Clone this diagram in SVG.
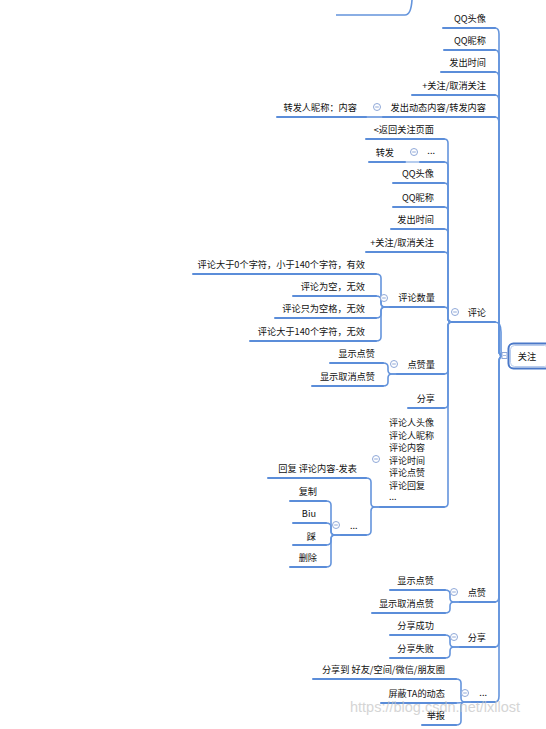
<svg xmlns="http://www.w3.org/2000/svg" width="546" height="729" viewBox="0 0 546 729">
<style>
.ul{stroke:#5b8dd9;stroke-width:2;fill:none;stroke-linecap:round}
.cn{stroke:#6494dc;stroke-width:1.6;fill:none}
.t{font-family:"Noto Sans CJK SC","Noto Sans",sans-serif;font-size:9.2px;fill:#111}
.e{text-anchor:end}
.ml{font-size:9px}
.wm{font-family:"Liberation Sans",Arial,sans-serif;font-size:14.5px;fill:#c4c4c4;opacity:0.7}
</style>
<defs>
<g id="cb"><circle r="3.5" fill="#fff" stroke="#8fa8d8" stroke-width="1"/><line x1="-1.8" y1="0" x2="1.8" y2="0" stroke="#8fa8d8" stroke-width="1"/></g>
</defs>
<rect width="546" height="729" fill="#fff"/>

<g id="connectors">
<path class="cn" d="M336 15 H405 Q411 15 412 0"/>
<path class="cn" d="M495 28 Q499 28 499 34 V350 Q499 356 503 356"/>
<path class="cn" d="M495 50 Q499 50 499 56 V350 Q499 356 503 356"/>
<path class="cn" d="M495 72 Q499 72 499 78 V350 Q499 356 503 356"/>
<path class="cn" d="M495 95 Q499 95 499 101 V350 Q499 356 503 356"/>
<path class="cn" d="M495 117 Q499 117 499 123 V350 Q499 356 503 356"/>
<path class="cn" d="M495 322 Q501 322 501 332 V350 Q501 356 503 356"/>
<path class="cn" d="M495 602 Q499 602 499 596 V362 Q499 356 503 356"/>
<path class="cn" d="M495 647 Q499 647 499 641 V362 Q499 356 503 356"/>
<path class="cn" d="M495 702 Q499 702 499 696 V362 Q499 356 503 356"/>
<path class="cn" d="M366 117 H383"/>
<path class="cn" d="M444 139 Q448 139 448 143 V318 Q448 322 452 322"/>
<path class="cn" d="M444 162 Q448 162 448 166 V318 Q448 322 452 322"/>
<path class="cn" d="M444 183 Q448 183 448 187 V318 Q448 322 452 322"/>
<path class="cn" d="M444 207 Q448 207 448 211 V318 Q448 322 452 322"/>
<path class="cn" d="M444 229 Q448 229 448 233 V318 Q448 322 452 322"/>
<path class="cn" d="M444 252 Q448 252 448 256 V318 Q448 322 452 322"/>
<path class="cn" d="M444 307 Q448 307 448 311 V318 Q448 322 452 322"/>
<path class="cn" d="M444 374 Q448 374 448 370 V326 Q448 322 452 322"/>
<path class="cn" d="M444 408 Q448 408 448 404 V326 Q448 322 452 322"/>
<path class="cn" d="M444 507 Q448 507 448 503 V326 Q448 322 452 322"/>
<path class="cn" d="M405 162 H420" stroke-opacity="0.6"/>
<path class="cn" d="M376 274 Q381 274 381 278 V303 Q381 307 385 307 H390"/>
<path class="cn" d="M376 296 Q381 296 381 300 V303 Q381 307 385 307 H390"/>
<path class="cn" d="M376 318 Q381 318 381 314 V311 Q381 307 385 307 H390"/>
<path class="cn" d="M376 341 Q381 341 381 337 V311 Q381 307 385 307 H390"/>
<path class="cn" d="M383 363 Q388 363 388 367 V370 Q388 374 392 374 H397"/>
<path class="cn" d="M383 386 Q388 386 388 382 V378 Q388 374 392 374 H397"/>
<path class="cn" d="M366 478 Q371 478 371 482 V503 Q371 507 375 507 H380"/>
<path class="cn" d="M366 535 Q371 535 371 531 V511 Q371 507 375 507 H380"/>
<path class="cn" d="M326 501 Q331 501 331 505 V531 Q331 535 335 535 H341"/>
<path class="cn" d="M326 523 Q331 523 331 527 V531 Q331 535 335 535 H341"/>
<path class="cn" d="M326 545 Q331 545 331 541 V539 Q331 535 335 535 H341"/>
<path class="cn" d="M326 567 Q331 567 331 563 V539 Q331 535 335 535 H341"/>
<path class="cn" d="M445 590 Q450 590 450 594 V598 Q450 602 454 602 H460"/>
<path class="cn" d="M445 613 Q450 613 450 609 V606 Q450 602 454 602 H460"/>
<path class="cn" d="M445 635 Q450 635 450 639 V643 Q450 647 454 647 H460"/>
<path class="cn" d="M445 658 Q450 658 450 654 V651 Q450 647 454 647 H460"/>
<path class="cn" d="M456 679 Q461 679 461 683 V698 Q461 702 465 702 H472"/>
<path class="cn" d="M456 703 Q461 703 465 702 H472"/>
<path class="cn" d="M456 725 Q461 725 461 721 V706 Q461 702 465 702 H472"/>
</g>

<g id="n-root">
<rect x="508.5" y="343.5" width="42" height="25" rx="5" fill="#fff" stroke="#4a78c8" stroke-width="2"/>
<rect x="510.5" y="345.5" width="38" height="21" rx="4" fill="none" stroke="#b9cdee" stroke-width="1"/>
<text class="t" x="527" y="359.5" text-anchor="middle" font-size="10">关注</text>
<rect x="502" y="352.5" width="5" height="6" fill="#fff" stroke="#8fa8d8" stroke-width="1"/>
<line x1="503" y1="355.5" x2="506" y2="355.5" stroke="#8fa8d8" stroke-width="0.8"/>
</g>

<g id="n-top-qqtx"><line class="ul" x1="443" y1="28" x2="495" y2="28"/><text class="t e" x="486" y="22">QQ头像</text></g>
<g id="n-top-qqnc"><line class="ul" x1="444" y1="50" x2="495" y2="50"/><text class="t e" x="486" y="44">QQ昵称</text></g>
<g id="n-top-time"><line class="ul" x1="441" y1="72" x2="495" y2="72"/><text class="t e" x="486" y="66">发出时间</text></g>
<g id="n-top-follow"><line class="ul" x1="412" y1="95" x2="495" y2="95"/><text class="t e" x="486" y="89">+关注/取消关注</text></g>
<g id="n-top-content"><line class="ul" x1="383" y1="117" x2="495" y2="117"/><text class="t e" x="486" y="111">发出动态内容/转发内容</text><use href="#cb" x="377" y="107"/></g>
<g id="n-fwd-name"><line class="ul" x1="277" y1="117" x2="366" y2="117"/><text class="t e" x="357" y="111">转发人昵称：内容</text></g>

<g id="n-comment"><line class="ul" x1="452" y1="322" x2="495" y2="322"/><text class="t e" x="486" y="316">评论</text><use href="#cb" x="455" y="312"/></g>
<g id="n-c-back"><line class="ul" x1="366" y1="139" x2="444" y2="139"/><text class="t e" x="434" y="133">&lt;返回关注页面</text></g>
<g id="n-c-more"><line class="ul" x1="420" y1="162" x2="444" y2="162"/><text class="t e" x="435" y="154" fill="#6a2a6a" font-size="8">...</text><use href="#cb" x="414" y="152"/></g>
<g id="n-c-fwd"><line class="ul" x1="369" y1="162" x2="405" y2="162"/><text class="t e" x="394" y="156">转发</text></g>
<g id="n-c-qqtx"><line class="ul" x1="393" y1="183" x2="444" y2="183"/><text class="t e" x="434" y="177">QQ头像</text></g>
<g id="n-c-qqnc"><line class="ul" x1="393" y1="207" x2="444" y2="207"/><text class="t e" x="434" y="201">QQ昵称</text></g>
<g id="n-c-time"><line class="ul" x1="391" y1="229" x2="444" y2="229"/><text class="t e" x="434" y="223">发出时间</text></g>
<g id="n-c-follow"><line class="ul" x1="366" y1="252" x2="444" y2="252"/><text class="t e" x="434" y="246">+关注/取消关注</text></g>

<g id="n-c-count"><line class="ul" x1="390" y1="307" x2="444" y2="307"/><text class="t e" x="435" y="301">评论数量</text><use href="#cb" x="384" y="298"/></g>
<g id="n-cc-1"><line class="ul" x1="193" y1="274" x2="376" y2="274"/><text class="t e" x="365" y="268">评论大于0个字符，小于140个字符，有效</text></g>
<g id="n-cc-2"><line class="ul" x1="293" y1="296" x2="376" y2="296"/><text class="t e" x="365" y="290">评论为空，无效</text></g>
<g id="n-cc-3"><line class="ul" x1="275" y1="318" x2="376" y2="318"/><text class="t e" x="365" y="312">评论只为空格，无效</text></g>
<g id="n-cc-4"><line class="ul" x1="250" y1="341" x2="376" y2="341"/><text class="t e" x="365" y="335">评论大于140个字符，无效</text></g>

<g id="n-c-likes"><line class="ul" x1="397" y1="374" x2="444" y2="374"/><text class="t e" x="435" y="368">点赞量</text><use href="#cb" x="394" y="364"/></g>
<g id="n-cl-1"><line class="ul" x1="330" y1="363" x2="383" y2="363"/><text class="t e" x="375" y="357">显示点赞</text></g>
<g id="n-cl-2"><line class="ul" x1="312" y1="386" x2="383" y2="386"/><text class="t e" x="375" y="380">显示取消点赞</text></g>

<g id="n-c-share"><line class="ul" x1="408" y1="408" x2="444" y2="408"/><text class="t e" x="435" y="402">分享</text></g>

<g id="n-c-detail"><line class="ul" x1="380" y1="507" x2="444" y2="507"/>
<text class="t ml" x="389" y="426">评论人头像</text>
<text class="t ml" x="389" y="438.5">评论人昵称</text>
<text class="t ml" x="389" y="451">评论内容</text>
<text class="t ml" x="389" y="463.5">评论时间</text>
<text class="t ml" x="389" y="476">评论点赞</text>
<text class="t ml" x="389" y="488.5">评论回复</text>
<text class="t ml" x="389" y="500">...</text>
<use href="#cb" x="376" y="459"/></g>
<g id="n-cd-reply"><line class="ul" x1="268" y1="478" x2="366" y2="478"/><text class="t e" x="357" y="472">回复 评论内容-发表</text></g>
<g id="n-cd-more"><line class="ul" x1="341" y1="535" x2="366" y2="535"/><text class="t" x="350" y="529">...</text><use href="#cb" x="336" y="525"/></g>
<g id="n-cdm-copy"><line class="ul" x1="290" y1="501" x2="326" y2="501"/><text class="t e" x="317" y="495">复制</text></g>
<g id="n-cdm-biu"><line class="ul" x1="293" y1="523" x2="326" y2="523"/><text class="t e" x="316" y="517">Biu</text></g>
<g id="n-cdm-cai"><line class="ul" x1="293" y1="545" x2="326" y2="545"/><text class="t e" x="316" y="540">踩</text></g>
<g id="n-cdm-del"><line class="ul" x1="290" y1="567" x2="326" y2="567"/><text class="t e" x="317" y="561">删除</text></g>

<g id="n-like"><line class="ul" x1="460" y1="602" x2="495" y2="602"/><text class="t e" x="486" y="596">点赞</text><use href="#cb" x="454" y="592"/></g>
<g id="n-like-1"><line class="ul" x1="390" y1="590" x2="445" y2="590"/><text class="t e" x="434" y="584">显示点赞</text></g>
<g id="n-like-2"><line class="ul" x1="372" y1="613" x2="445" y2="613"/><text class="t e" x="434" y="607">显示取消点赞</text></g>

<g id="n-share"><line class="ul" x1="460" y1="647" x2="495" y2="647"/><text class="t e" x="486" y="641">分享</text><use href="#cb" x="454" y="637"/></g>
<g id="n-share-1"><line class="ul" x1="390" y1="635" x2="445" y2="635"/><text class="t e" x="434" y="629">分享成功</text></g>
<g id="n-share-2"><line class="ul" x1="390" y1="658" x2="445" y2="658"/><text class="t e" x="434" y="652">分享失败</text></g>

<g id="n-more"><line class="ul" x1="472" y1="702" x2="495" y2="702"/><text class="t e" x="487" y="696">...</text><use href="#cb" x="465" y="693"/></g>
<g id="n-more-1"><line class="ul" x1="313" y1="679" x2="456" y2="679"/><text class="t e" x="445" y="673">分享到 好友/空间/微信/朋友圈</text></g>
<g id="n-more-2"><line class="ul" x1="381" y1="703" x2="456" y2="703"/><text class="t e" x="445" y="697">屏蔽TA的动态</text></g>
<g id="n-more-3"><line class="ul" x1="422" y1="725" x2="456" y2="725"/><text class="t e" x="445" y="719">举报</text></g>

<text class="wm" x="350" y="712">https://blog.csdn.net/lxllost</text>
</svg>
